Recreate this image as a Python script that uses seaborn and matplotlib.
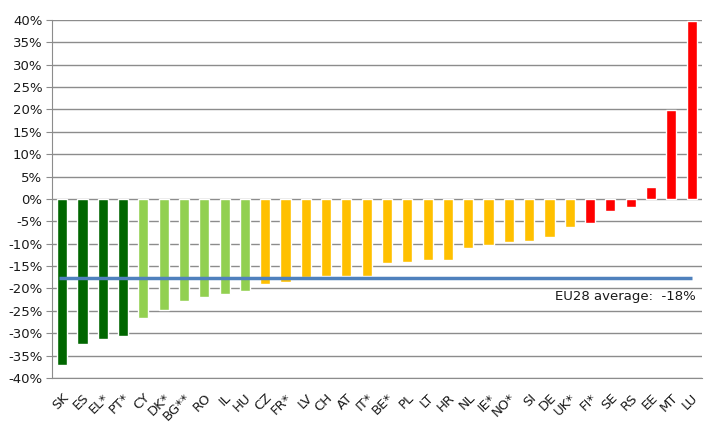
import matplotlib
matplotlib.use("Agg")
import matplotlib.pyplot as plt
import seaborn as sns
import pandas as pd

# Change by country (%), sorted from lowest to highest
countries = ["SK", "ES", "EL*", "PT*", "CY", "DK*", "BG**", "RO", "IL", "HU",
             "CZ", "FR*", "LV", "CH", "AT", "IT*", "BE*", "PL", "LT", "HR",
             "NL", "IE*", "NO*", "SI", "DE", "UK*", "FI*", "SE", "RS", "EE",
             "MT", "LU"]
values = [-37.0, -32.3, -31.2, -30.7, -26.7, -24.9, -22.9, -22.0, -21.3, -20.5,
          -19.1, -18.5, -17.4, -17.3, -17.2, -17.3, -14.4, -14.0, -13.7, -13.6,
          -11.0, -10.3, -9.6, -9.4, -8.5, -6.2, -5.3, -2.6, -1.7, 2.6,
          19.9, 39.8]
groups = ["dark"] * 4 + ["light"] * 6 + ["yellow"] * 16 + ["red"] * 6
eu_average = -17.6
eu_label = "EU28 average:  -18%"

group_colors = {"dark": "#006600", "light": "#92D050",
                "yellow": "#FFC000", "red": "#FF0000"}

df = pd.DataFrame({"country": countries, "value": values, "group": groups})

sns.set_style("white")
plt.rcParams["font.family"] = ["DejaVu Sans"]

fig = plt.figure(figsize=(7.26, 4.33), dpi=100)
ax = fig.add_axes([0.0716, 0.127, 0.895, 0.827])

sns.barplot(data=df, x="country", y="value", hue="group",
            palette=group_colors, dodge=False, width=0.5, saturation=1,
            legend=False, ax=ax)
for patch in ax.patches:
    patch.set_zorder(3)

ax.set_ylim(-40, 40)
ax.set_xlim(-0.5, len(countries) - 0.5)
ax.set_yticks(range(-40, 41, 5))
ax.set_yticklabels([f"{t}%" for t in range(-40, 41, 5)])
ax.yaxis.grid(True, color="#8c8c8c", linewidth=1, zorder=0)
ax.set_axisbelow(True)

ax.hlines(eu_average, -0.15, len(countries) - 1, color="#4F81BD",
          linewidth=2.5, zorder=4)
ax.text(len(countries) - 0.8, -21.7, eu_label, ha="right", va="center",
        fontsize=9.5, color="#1a1a1a")

ax.set_xlabel("")
ax.set_ylabel("")
plt.setp(ax.get_xticklabels(), rotation=45, ha="right",
         rotation_mode="anchor", fontsize=9.5, color="#1a1a1a")
plt.setp(ax.get_yticklabels(), fontsize=9.5, color="#1a1a1a")
ax.tick_params(axis="y", left=True, length=4, color="#8c8c8c", pad=3)
ax.tick_params(axis="x", bottom=False, pad=6)

for side in ["top", "right"]:
    ax.spines[side].set_visible(False)
for side in ["left", "bottom"]:
    ax.spines[side].set_color("#8c8c8c")

plt.savefig("out.png", dpi=100)
